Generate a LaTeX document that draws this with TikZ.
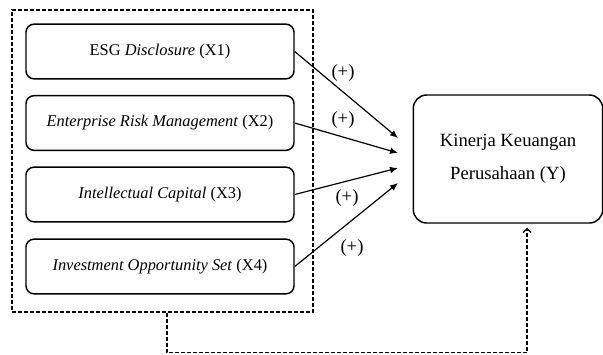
\documentclass[tikz,border=0pt]{standalone}
\usepackage{fontspec}
\setmainfont{Liberation Serif}
\usetikzlibrary{arrows.meta}

\begin{document}
\begin{tikzpicture}[
  x=0.75pt, y=-0.75pt,
  var/.style={draw, line width=1.1pt, rounded corners=6pt, fill=white,
              minimum width=201pt, minimum height=41pt,
              align=center, font=\fontsize{12.3}{15}\selectfont, inner sep=3pt},
  dep/.style={draw, line width=1.1pt, rounded corners=10pt, fill=white,
              minimum width=142pt, minimum height=96pt,
              align=center, font=\fontsize{14}{25}\selectfont, inner sep=3pt},
  grp/.style={draw, line width=0.9pt, dash pattern=on 3pt off 1.5pt,
              minimum width=225.75pt, minimum height=226.5pt, inner sep=0pt},
  arr/.style={-{Latex[length=6pt,width=5pt]}, line width=0.9pt},
  farr/.style={-{Straight Barb[length=3pt,width=6pt]}, line width=0.9pt,
               dash pattern=on 3pt off 1.5pt},
  sgn/.style={font=\fontsize{14}{16}\selectfont, inner sep=1pt}
]
\useasboundingbox (0,0) rectangle (603,354);

%% Independent variables (left column)
\node[grp] (grp) at (162.5,161) {};
\node[var] (x1) at (160, 51.5) {ESG \textit{Disclosure} (X1)};
\node[var] (x2) at (160,123.0) {\textit{Enterprise Risk Management} (X2)};
\node[var] (x3) at (160,194.5) {\textit{Intellectual Capital} (X3)};
\node[var] (x4) at (160,266.5) {\textit{Investment Opportunity Set} (X4)};

%% Dependent variable
\node[dep] (y) at (508,159) {Kinerja Keuangan\\Perusahaan (Y)};

%% Arrow ends in front of Y
\coordinate (t1) at (398,138);
\coordinate (t2) at (398,153);
\coordinate (t3) at (398,168);
\coordinate (t4) at (398,183);

%% X -> Y
\draw[arr] (x1.east) -- (t1);
\draw[arr] (x2.east) -- (t2);
\draw[arr] (x3.east) -- (t3);
\draw[arr] (x4.east) -- (t4);

%% Signs
\node[sgn] (s1) at (343, 73) {(+)};
\node[sgn] (s2) at (343,120) {(+)};
\node[sgn] (s3) at (347,198) {(+)};
\node[sgn] (s4) at (352,248) {(+)};

%% Simultaneous effect
\draw[farr] ([xshift=3.4pt]grp.south) -- ++(0,40) -| ([xshift=14.3pt,yshift=-3pt]y.south);

\end{tikzpicture}
\end{document}
